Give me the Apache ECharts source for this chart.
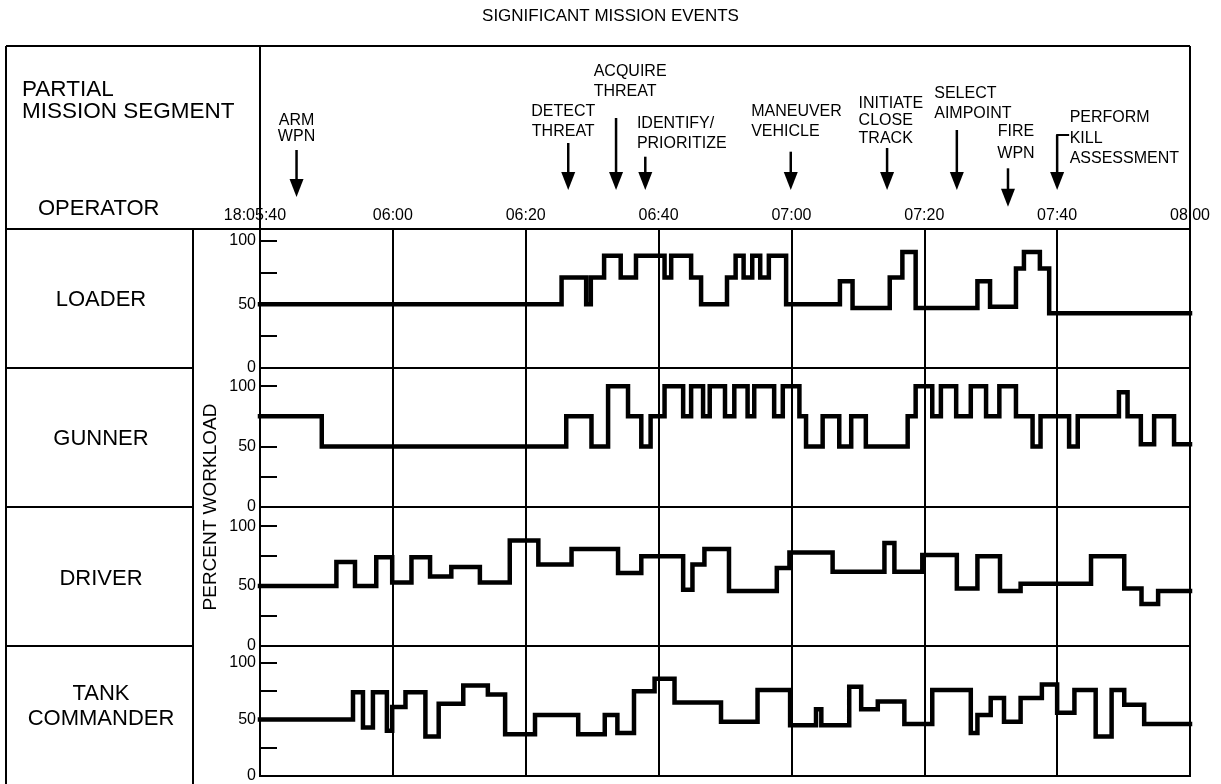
<!DOCTYPE html>
<html><head><meta charset="utf-8">
<script src="https://cdn.jsdelivr.net/npm/echarts@6/dist/echarts.min.js"></script>
<style>html,body{margin:0;padding:0;background:#fff}#c{width:1221px;height:784px}</style>
</head><body><div id="c"></div>
<script>
// ---- DATA ----
const operators = ['LOADER', 'GUNNER', 'DRIVER', 'TANK\nCOMMANDER'];
// x ticks every 20 s, starting at 18:05:40 (t = 0 .. 140 s)
const xTickLabels = ['18:05:40', '06:00', '06:20', '06:40', '07:00', '07:20', '07:40', '08:00'];
const yLabelValues = [0, 50, 100];
const yTickValues = [0, 25, 50, 75, 100];

// step changes: time (s after 18:05:40) -> percent workload held until next time
const loaderTime = [0, 45.4, 49.1, 49.8, 51.8, 54.3, 56.6, 60.9, 61.9, 64.9, 66.4, 70.3, 71.6, 72.8, 74.1, 75.3, 76.6, 79.2, 87.3, 89.2, 94.8, 96.7, 98.7, 108, 109.9, 113.8, 115, 117.4, 118.8, 140];
const loaderLoad = [50, 71, 50, 71, 88, 71, 88, 71, 88, 71, 50, 71, 88, 71, 88, 71, 88, 50, 68, 47, 71, 91, 47, 68, 48, 78, 91, 78, 43, 43];

const gunnerTime = [0, 9.3, 46.1, 49.9, 52.4, 55.4, 57.4, 58.8, 60.9, 63.7, 64.9, 66.7, 67.7, 70.0, 71.4, 73.4, 74.4, 77.4, 78.7, 81.2, 82.2, 84.7, 87.2, 89.0, 91.2, 97.5, 98.7, 101.2, 102.5, 104.8, 107.0, 109.3, 111.3, 113.8, 116.3, 117.5, 121.8, 123.1, 129.3, 130.6, 132.6, 134.6, 137.6, 140];
const gunnerLoad = [75, 50, 75, 50, 100, 75, 50, 75, 100, 75, 100, 75, 100, 75, 100, 75, 100, 75, 100, 75, 50, 75, 50, 75, 50, 75, 100, 75, 100, 75, 100, 75, 100, 75, 50, 75, 50, 75, 95, 75, 52, 75, 52, 52];

const driverTime = [0, 11.5, 14.3, 17.5, 19.9, 22.8, 25.6, 28.8, 33.1, 37.6, 41.9, 46.9, 53.9, 57.4, 63.7, 65.1, 66.9, 70.6, 77.8, 79.7, 86.2, 94.0, 95.5, 99.7, 104.9, 108.0, 111.4, 114.5, 125.1, 130.1, 132.7, 135.2, 140];
const driverLoad = [50, 70, 50, 74, 53, 74, 58, 66, 53, 88, 68, 81, 61, 75, 47, 68, 81, 46, 65, 78, 62, 86, 62, 76, 48, 75, 46, 52, 75, 48, 35, 46, 46];

const commanderTime = [0, 14.0, 15.5, 17.0, 19.1, 19.9, 21.9, 24.9, 26.9, 30.6, 34.3, 36.9, 41.4, 47.9, 51.9, 53.8, 56.3, 59.4, 62.4, 69.4, 74.9, 79.8, 83.7, 84.5, 88.7, 90.5, 93.0, 97.0, 101.2, 107.0, 108.0, 110.0, 112.0, 114.5, 117.7, 120.0, 122.6, 125.8, 128.2, 130.1, 133.1, 140];
const commanderLoad = [50, 74, 43, 74, 40, 61, 74, 35, 64, 80, 72, 37, 54, 37, 54, 38, 75, 86, 65, 48, 76, 45, 59, 45, 79, 59, 66, 46, 76, 38, 54, 69, 48, 69, 81, 56, 76, 35, 76, 63, 46, 46];

const eventNames = ['ARM\nWPN', 'DETECT\nTHREAT', 'ACQUIRE\nTHREAT', 'IDENTIFY/\nPRIORITIZE', 'MANEUVER\nVEHICLE', 'INITIATE\nCLOSE\nTRACK', 'SELECT\nAIMPOINT', 'FIRE\nWPN', 'PERFORM\nKILL\nASSESSMENT'];
const eventTime = [5.5, 46.4, 53.6, 58.0, 79.9, 94.4, 104.9, 112.6, 120.0];

// ---- LAYOUT / STYLE (not data) ----
const FONT = '"Liberation Sans", Arial, Helvetica, sans-serif';
const eventLayout = [
  {dx: 0, align: 'center', lh: 16, top: 113, shaftTop: 150, tip: 197},
  {dx: -5, align: 'center', lh: 20, top: 101.7, shaftTop: 143, tip: 190},
  {dx: -22.4, align: 'left', lh: 20, top: 61.7, shaftTop: 118, tip: 190},
  {dx: -8.4, align: 'left', lh: 20, top: 113.3, shaftTop: 156.7, tip: 190},
  {dx: -39.6, align: 'left', lh: 20, top: 101.7, shaftTop: 151.7, tip: 190},
  {dx: -28.5, align: 'left', lh: 17.5, top: 94.5, shaftTop: 148, tip: 190},
  {dx: -22.6, align: 'left', lh: 20, top: 83.3, shaftTop: 130, tip: 190},
  {dx: 8, align: 'center', lh: 22, top: 120.7, shaftTop: 168.3, tip: 206.7},
  {dx: 12.5, align: 'left', lh: 20.5, top: 107.7, shaftTop: 135, tip: 190, bracket: 12}
];
const panelTop = [229, 368, 507, 646];
const panelHeight = [139, 139, 139, 138];
const panelMax = [109, 115, 116, 115];
const PLOT_LEFT = 260, PLOT_W = 930;

const seriesTimes = [loaderTime, gunnerTime, driverTime, commanderTime];
const seriesLoads = [loaderLoad, gunnerLoad, driverLoad, commanderLoad];

const chart = echarts.init(document.getElementById('c'), null, {renderer: 'canvas'});

const grids = [{left: PLOT_LEFT, top: 46, width: PLOT_W, height: 183, show: false}];
const xAxes = [{
  gridIndex: 0, type: 'value', min: 0, max: 140, interval: 20, position: 'bottom',
  axisLine: {show: false}, axisTick: {show: false}, splitLine: {show: false},
  axisLabel: {
    inside: true, margin: 5, color: '#000', fontSize: 16, fontFamily: FONT,
    showMinLabel: true, showMaxLabel: true,
    formatter: v => { const s = xTickLabels[Math.round(v / 20)]; return v === 0 ? '{a|' + s + '}' : s; },
    rich: {a: {fontSize: 16, fontFamily: FONT, color: '#000', padding: [0, 10, 0, 0]}}
  }
}];
const yAxes = [{gridIndex: 0, type: 'value', min: 0, max: 10, show: false}];
const series = [];

for (let i = 0; i < 4; i++) {
  grids.push({left: PLOT_LEFT, top: panelTop[i], width: PLOT_W, height: panelHeight[i],
    show: true, borderColor: '#000', borderWidth: 2, backgroundColor: 'transparent'});
  xAxes.push({gridIndex: i + 1, type: 'value', min: 0, max: 140, interval: 20,
    axisLine: {show: false}, axisTick: {show: false}, axisLabel: {show: false},
    splitLine: {show: true, lineStyle: {color: '#000', width: 2}}});
  yAxes.push({gridIndex: i + 1, type: 'value', min: 0, max: panelMax[i],
    axisLine: {show: true, lineStyle: {color: '#000', width: 2}},
    axisTick: {show: true, inside: true, length: 17, lineStyle: {color: '#000', width: 2}, customValues: yTickValues},
    axisLabel: {show: true, color: '#000', fontSize: 16, fontFamily: FONT, margin: 4, customValues: yLabelValues},
    splitLine: {show: false}});
  series.push({
    type: 'line', xAxisIndex: i + 1, yAxisIndex: i + 1, step: 'end',
    showSymbol: false, symbol: 'none', silent: true, animation: false,
    lineStyle: {color: '#000', width: 4.5, cap: 'square', join: 'miter'},
    data: seriesTimes[i].map((t, k) => [t, seriesLoads[i][k]])
  });
}

series.push({
  type: 'custom', xAxisIndex: 0, yAxisIndex: 0, clip: false, silent: true, animation: false,
  data: eventTime.map((t, k) => [t, k]),
  renderItem: function (params, api) {
    const k = api.value(1);
    const x = api.coord([api.value(0), 0])[0];
    const L = eventLayout[k];
    const children = [
      {type: 'text', style: {text: eventNames[k], x: x + L.dx, y: L.top, align: L.align, verticalAlign: 'top',
        fontSize: 16, fontFamily: FONT, lineHeight: L.lh, fill: '#000'}},
      {type: 'line', shape: {x1: x, y1: L.shaftTop, x2: x, y2: L.tip - 12}, style: {stroke: '#000', lineWidth: 2.5}},
      {type: 'polygon', shape: {points: [[x - 7, L.tip - 18], [x + 7, L.tip - 18], [x, L.tip]]}, style: {fill: '#000'}}
    ];
    if (L.bracket) {
      children.push({type: 'line', shape: {x1: x - 1, y1: L.shaftTop, x2: x + L.bracket, y2: L.shaftTop}, style: {stroke: '#000', lineWidth: 2}});
    }
    return {type: 'group', children: children};
  }
});

const ln = (x1, y1, x2, y2) => ({type: 'line', shape: {x1, y1, x2, y2}, style: {stroke: '#000', lineWidth: 2}, silent: true});
const graphics = [
  ln(6, 46, 1190, 46), ln(6, 46, 6, 784), ln(1190, 46, 1190, 229), ln(6, 229, 1190, 229),
  ln(260, 46, 260, 229), ln(193, 229, 193, 784),
  ln(6, 368, 193, 368), ln(6, 507, 193, 507), ln(6, 646, 193, 646),
  {type: 'text', left: 'center', top: 8, style: {text: 'SIGNIFICANT MISSION EVENTS', fontSize: 17, fontFamily: FONT, fill: '#000'}},
  {type: 'text', x: 22, y: 79, style: {text: 'PARTIAL\nMISSION SEGMENT', fontSize: 22.5, lineHeight: 22, fontFamily: FONT, fill: '#000'}},
  {type: 'text', x: 38, y: 198, style: {text: 'OPERATOR', fontSize: 22, fontFamily: FONT, fill: '#000'}},
  {type: 'text', x: 211, y: 507, rotation: Math.PI / 2,
    style: {text: 'PERCENT WORKLOAD', fontSize: 19, fontFamily: FONT, fill: '#000', align: 'center', verticalAlign: 'middle'}}
];
const nameCenters = [300, 439, 579, 706];
operators.forEach((name, i) => {
  graphics.push({type: 'text', x: 101, y: nameCenters[i],
    style: {text: name, fontSize: 22, lineHeight: 25, fontFamily: FONT, fill: '#000', align: 'center', verticalAlign: 'middle'}});
});

chart.setOption({
  backgroundColor: '#fff',
  animation: false,
  grid: grids, xAxis: xAxes, yAxis: yAxes, series: series,
  graphic: graphics
});
</script></body></html>
